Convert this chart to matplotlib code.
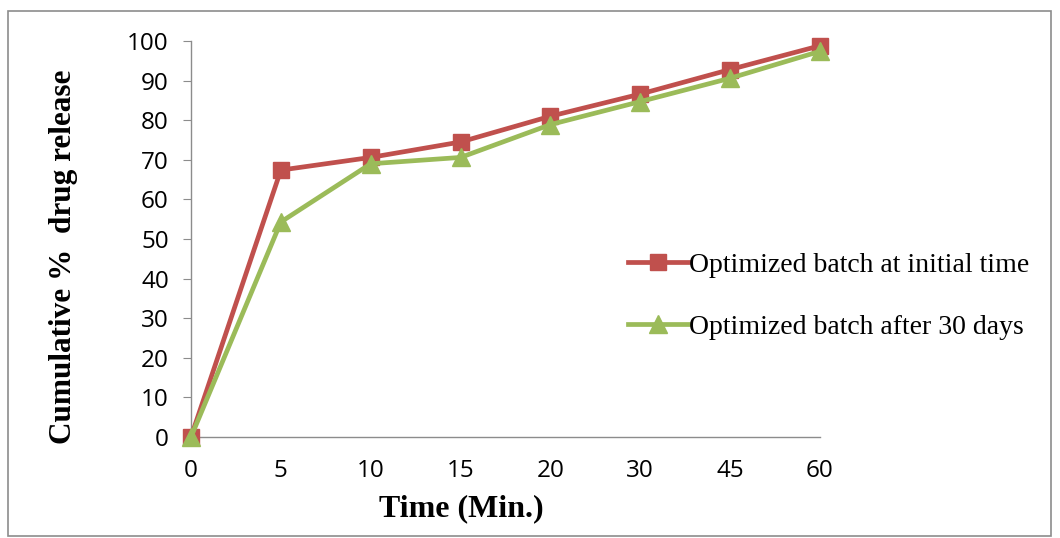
import matplotlib
matplotlib.use("Agg")
import matplotlib.pyplot as plt
from matplotlib.patches import Rectangle

time_labels = ["0", "5", "10", "15", "20", "30", "45", "60"]
initial_release = [0, 67.4, 70.6, 74.5, 81.0, 86.6, 92.8, 98.8]
after_30_days = [0, 54.3, 69.0, 70.6, 78.9, 84.7, 90.6, 97.4]
y_ticks = [0, 10, 20, 30, 40, 50, 60, 70, 80, 90, 100]

fig = plt.figure(figsize=(10.6, 5.38), dpi=100)
ax = fig.add_axes([191 / 1060, 1 - 437 / 538, (820 - 191) / 1060, (437 - 41) / 538])

# outer frame around the whole chart area
fig.patches.append(Rectangle((8 / 1060, 2 / 538), 1043 / 1060, 525 / 538,
                             transform=fig.transFigure, fill=False,
                             edgecolor="#8c8c8c", linewidth=1.2))

x = list(range(len(time_labels)))
ax.plot(x, initial_release, color="#C0504D", linewidth=3.4, marker="s",
        markersize=12, label="Optimized batch at initial time", clip_on=False, zorder=3)
ax.plot(x, after_30_days, color="#9BBB59", linewidth=3.4, marker="^",
        markersize=13, label="Optimized batch after 30 days", clip_on=False, zorder=4)

ax.set_xlim(0, len(time_labels) - 1)
ax.set_ylim(0, 100)
ax.set_xticks(x)
ax.set_xticklabels(time_labels)
ax.set_yticks(y_ticks)

for side in ("top", "right"):
    ax.spines[side].set_visible(False)
for side in ("left", "bottom"):
    ax.spines[side].set_color("#8c8c8c")
    ax.spines[side].set_linewidth(1.0)

ax.tick_params(axis="y", direction="out", length=6, color="#8c8c8c",
               labelsize=17.5, pad=10)
ax.tick_params(axis="x", length=0, labelsize=17.5, pad=16)
for lab in ax.get_xticklabels() + ax.get_yticklabels():
    lab.set_fontfamily("Open Sans")

ax.set_xlabel("Time (Min.)", fontfamily="Liberation Serif", fontweight="bold",
              fontsize=23)
ax.xaxis.set_label_coords(0.43, -0.145)
ax.set_ylabel("Cumulative %  drug release", fontfamily="Liberation Serif",
              fontweight="bold", fontsize=22.5)
ax.yaxis.set_label_coords(-0.18, 0.455)

leg = ax.legend(loc="center left", bbox_to_anchor=(0.655, 0.356), frameon=False,
                prop={"family": "Liberation Serif", "size": 20},
                handlelength=2.15, handletextpad=0.05, labelspacing=1.3,
                markerscale=0.95)

fig.savefig("out.png", dpi=100)
